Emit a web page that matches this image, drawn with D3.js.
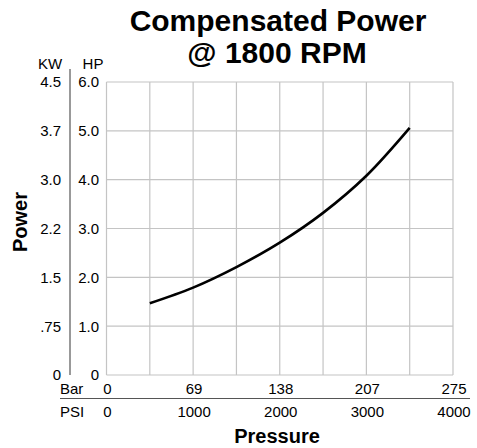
<html>
<script src="https://d3js.org/d3.v7.min.js"></script>
<body style="margin:0">
<svg></svg>
<script>
    const width = 477;
    const height = 448;

    // curve: PSI -> HP
    const psi = [500, 1000, 1500, 2000, 2500, 3000, 3500];
    const hp  = [1.47, 1.79, 2.21, 2.71, 3.32, 4.08, 5.06];

    const hpTicks = [0, 1, 2, 3, 4, 5, 6];
    const hpLabels = ["0", "1.0", "2.0", "3.0", "4.0", "5.0", "6.0"];
    const kwLabels = ["0", ".75", "1.5", "2.2", "3.0", "3.7", "4.5"];
    const psiTicks = [0, 1000, 2000, 3000, 4000];
    const barLabels = ["0", "69", "138", "207", "275"];
    const gridX = d3.range(0, 4001, 500);

    const font = "'Liberation Sans', Arial, Helvetica, sans-serif";

    const svg = d3.select('svg')
        .attr('width', width).attr('height', height)
        .style('font-family', font);

    const x = d3.scaleLinear().domain([0, 4000]).range([106.5, 453]);
    const y = d3.scaleLinear().domain([0, 6]).range([375, 82]);

    // grid
    const grid = svg.append('g').attr('stroke', '#c4c4c4').attr('stroke-width', 1.2);
    grid.selectAll('.gx').data(gridX).enter().append('line')
        .attr('x1', d => x(d)).attr('x2', d => x(d))
        .attr('y1', y(0)).attr('y2', y(6));
    grid.selectAll('.gy').data(hpTicks).enter().append('line')
        .attr('y1', d => y(d)).attr('y2', d => y(d))
        .attr('x1', x(0)).attr('x2', x(4000));

    // the curve
    const line = d3.line()
        .x((d, i) => x(psi[i]))
        .y(d => y(d))
        .curve(d3.curveCatmullRom.alpha(0.5));
    svg.append('path')
        .datum(hp)
        .attr('d', line)
        .attr('fill', 'none')
        .attr('stroke', '#000')
        .attr('stroke-width', 2.6);

    // left axis
    svg.append('line')
        .attr('x1', 70).attr('x2', 70).attr('y1', 69).attr('y2', 375)
        .attr('stroke', '#555').attr('stroke-width', 1.2);

    svg.append('text').attr('x', 50).attr('y', 69).attr('text-anchor', 'middle')
        .style('font-size', '15px').text('KW');
    svg.append('text').attr('x', 93).attr('y', 69).attr('text-anchor', 'middle')
        .style('font-size', '15px').text('HP');

    svg.selectAll('.kw').data(hpTicks).enter().append('text')
        .attr('x', 61).attr('y', d => y(d)).attr('dy', '0.36em')
        .attr('text-anchor', 'end').style('font-size', '15px')
        .text((d, i) => kwLabels[i]);
    svg.selectAll('.hp').data(hpTicks).enter().append('text')
        .attr('x', 99).attr('y', d => y(d)).attr('dy', '0.36em')
        .attr('text-anchor', 'end').style('font-size', '15px')
        .text((d, i) => hpLabels[i]);

    // bottom scales
    svg.append('line')
        .attr('x1', 60).attr('x2', 470).attr('y1', 398.5).attr('y2', 398.5)
        .attr('stroke', '#555').attr('stroke-width', 1.2);
    svg.append('text').attr('x', 60).attr('y', 394).style('font-size', '15px').text('Bar');
    svg.append('text').attr('x', 60).attr('y', 417).style('font-size', '15px').text('PSI');

    svg.selectAll('.bar').data(psiTicks).enter().append('text')
        .attr('x', d => x(d) + 1).attr('y', 394)
        .attr('text-anchor', 'middle').style('font-size', '15px')
        .text((d, i) => barLabels[i]);
    svg.selectAll('.psi').data(psiTicks).enter().append('text')
        .attr('x', d => x(d) + 1).attr('y', 417)
        .attr('text-anchor', 'middle').style('font-size', '15px')
        .text(d => d);

    // titles
    svg.append('text').attr('x', 278).attr('y', 31).attr('text-anchor', 'middle')
        .style('font-size', '30px').style('font-weight', 'bold').text('Compensated Power');
    svg.append('text').attr('x', 277).attr('y', 63).attr('text-anchor', 'middle')
        .style('font-size', '30px').style('font-weight', 'bold').text('@ 1800 RPM');

    svg.append('text').attr('x', 277).attr('y', 443).attr('text-anchor', 'middle')
        .style('font-size', '20px').style('font-weight', 'bold').text('Pressure');
    svg.append('text')
        .attr('transform', 'translate(27,222) rotate(-90)')
        .attr('text-anchor', 'middle')
        .style('font-size', '20px').style('font-weight', 'bold').text('Power');
</script>
</body>
</html>
